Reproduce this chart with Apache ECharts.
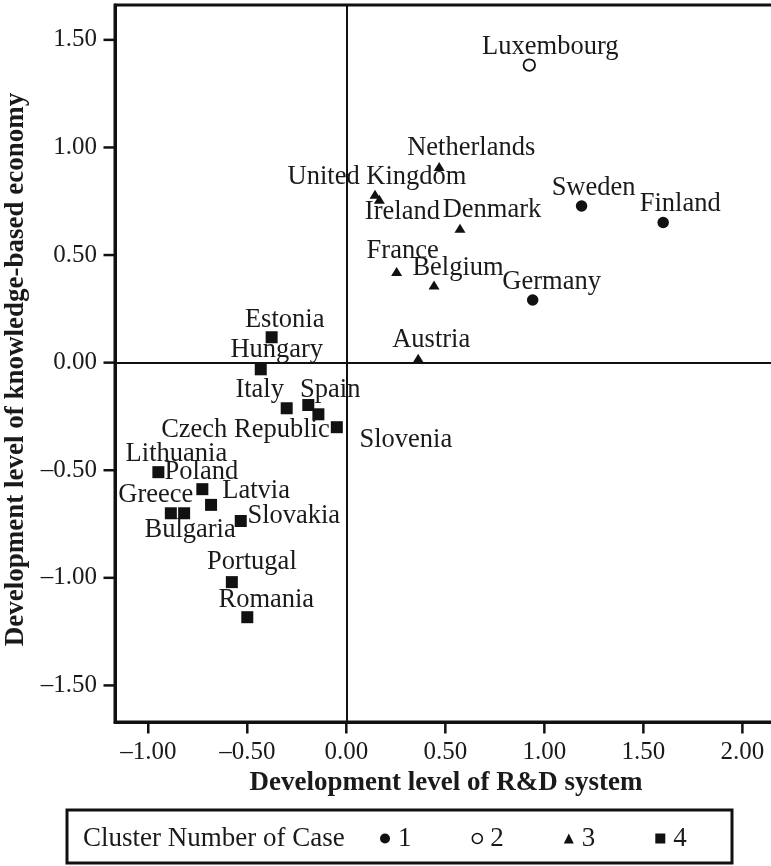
<!DOCTYPE html>
<html>
<head>
<meta charset="utf-8">
<script src="https://cdn.jsdelivr.net/npm/echarts@6/dist/echarts.min.js"></script>
<style>
html,body{margin:0;padding:0;background:#fff;}
#chart{width:771px;height:866px;}
</style>
</head>
<body>
<div id="chart"></div>
<script>
// ---- data ----
const cluster1Names = ['Sweden', 'Finland', 'Germany'];
const cluster1X = [1.188, 1.600, 0.941];
const cluster1Y = [0.728, 0.651, 0.291];

const cluster2Names = ['Luxembourg'];
const cluster2X = [0.924];
const cluster2Y = [1.383];

const cluster3Names = ['Netherlands', 'United Kingdom', 'Ireland', 'Denmark', 'France', 'Belgium', 'Austria'];
const cluster3X = [0.469, 0.145, 0.167, 0.574, 0.254, 0.443, 0.363];
const cluster3Y = [0.912, 0.782, 0.759, 0.625, 0.423, 0.361, 0.020];

const cluster4Names = ['Estonia', 'Hungary', 'Italy', 'Spain', 'Czech Republic', 'Slovenia', 'Lithuania',
  'Poland', 'Latvia', 'Greece', 'Bulgaria', 'Slovakia', 'Portugal', 'Romania'];
const cluster4X = [-0.377, -0.432, -0.301, -0.192, -0.141, -0.048, -0.949,
  -0.727, -0.683, -0.886, -0.819, -0.533, -0.578, -0.500];
const cluster4Y = [0.118, -0.031, -0.212, -0.197, -0.240, -0.300, -0.509,
  -0.588, -0.661, -0.700, -0.700, -0.736, -1.020, -1.183];

const xTicks = [-1.0, -0.5, 0.0, 0.5, 1.0, 1.5, 2.0];
const yTicks = [-1.5, -1.0, -0.5, 0.0, 0.5, 1.0, 1.5];
const clusterLabels = ['1', '2', '3', '4'];

// ---- axis extents ----
const X_MIN = -1.168, X_MAX = 2.2;
const Y_MIN = -1.67, Y_MAX = 1.662;

// ---- label placement (styling, pixel offsets from marker centre) ----
const labelOffsets = {
  'Luxembourg': [21, -18], 'Netherlands': [32, -18], 'United Kingdom': [2, -17],
  'Ireland': [23, 13], 'Denmark': [32, -18], 'Sweden': [12, -18], 'Finland': [17, -19],
  'France': [6, -21], 'Belgium': [24, -17], 'Germany': [19, -18], 'Austria': [13, -18],
  'Estonia': [13, -17], 'Hungary': [16, -19], 'Italy': [-27, -18], 'Spain': [22, -15],
  'Czech Republic': [-73, 16], 'Slovenia': [69, 13], 'Lithuania': [18, -18],
  'Poland': [-1, -17], 'Greece': [-15, -18], 'Latvia': [45, -14], 'Bulgaria': [6, 17],
  'Slovakia': [53, -5], 'Portugal': [20, -20], 'Romania': [19, -17]
};

const FONT = 'Liberation Serif';
const TICK_LEN = 11;
const TICK_W = 2.5;

function build(names, xs, ys) {
  return names.map((n, i) => ({
    name: n,
    value: [xs[i], ys[i]],
    label: { offset: labelOffsets[n] || [0, -18] }
  }));
}

const fmt = v => (v < 0 ? '\u2013' + Math.abs(v).toFixed(2) : v.toFixed(2));

const labelCommon = {
  show: true,
  position: 'inside',
  formatter: p => p.name,
  fontFamily: FONT,
  fontSize: 26.5,
  color: '#1a1a1a',
  align: 'center',
  verticalAlign: 'middle'
};

const chart = echarts.init(document.getElementById('chart'), null, { renderer: 'canvas' });

chart.setOption({
  animation: false,
  backgroundColor: '#fff',
  title: {
    text: 'Cluster Number of Case',
    left: 83, top: 825, padding: 0,
    textStyle: { fontFamily: FONT, fontSize: 27, fontWeight: 'normal', color: '#1a1a1a' }
  },
  legend: {
    left: 380, top: 825, padding: 0,
    itemGap: 60, itemWidth: 10, itemHeight: 10,
    textStyle: { fontFamily: FONT, fontSize: 27, color: '#1a1a1a', padding: [0, 0, 0, 3] },
    data: [
      { name: '1', icon: 'circle', itemStyle: { color: '#111' } },
      { name: '2', icon: 'circle', itemStyle: { color: '#fff', borderColor: '#111', borderWidth: 1.6 } },
      { name: '3', icon: 'triangle', itemStyle: { color: '#111' } },
      { name: '4', icon: 'rect', itemStyle: { color: '#111' } }
    ]
  },
  graphic: [{
    type: 'rect',
    shape: { x: 67, y: 810, width: 665, height: 53 },
    style: { fill: 'none', stroke: '#111', lineWidth: 3 },
    silent: true
  }],
  grid: {
    left: 115, width: 667, top: 5, bottom: 144,
    outerBoundsMode: 'none', containLabel: false,
    show: true, borderColor: '#111', borderWidth: 3, backgroundColor: 'transparent'
  },
  xAxis: {
    type: 'value', min: X_MIN, max: X_MAX,
    name: 'Development level of R&D system',
    nameLocation: 'middle', nameGap: 48,
    nameTextStyle: { fontFamily: FONT, fontSize: 27, fontWeight: 'bold', color: '#1a1a1a', padding: [0, 5, 0, 0] },
    axisLine: { show: true, onZero: false, lineStyle: { color: '#111', width: 3 } },
    splitLine: { show: false },
    axisTick: { show: false },
    axisLabel: { customValues: xTicks, formatter: fmt, margin: 18, fontFamily: FONT, fontSize: 25, color: '#1a1a1a' }
  },
  yAxis: {
    type: 'value', min: Y_MIN, max: Y_MAX,
    name: 'Development level of knowledge-based economy',
    nameLocation: 'middle', nameGap: 67,
    nameTextStyle: { fontFamily: FONT, fontSize: 27, fontWeight: 'bold', color: '#1a1a1a', padding: [0, 12, 0, 0] },
    axisLine: { show: true, onZero: false, lineStyle: { color: '#111', width: 3 } },
    splitLine: { show: false },
    axisTick: { show: false },
    axisLabel: { customValues: yTicks, formatter: fmt, margin: 18, fontFamily: FONT, fontSize: 25, color: '#1a1a1a' }
  },
  series: [
    {
      name: clusterLabels[0], type: 'scatter', symbol: 'circle', symbolSize: 11.5,
      itemStyle: { color: '#111', opacity: 1 },
      label: labelCommon,
      data: build(cluster1Names, cluster1X, cluster1Y),
      markLine: {
        silent: true, symbol: 'none', label: { show: false },
        lineStyle: { color: '#111', width: 2, type: 'solid' },
        data: [{ xAxis: 0 }, { yAxis: 0 }]
      },
      z: 3
    },
    {
      name: clusterLabels[1], type: 'scatter', symbol: 'circle', symbolSize: 11.5,
      itemStyle: { color: '#fff', borderColor: '#111', borderWidth: 1.8, opacity: 1 },
      label: labelCommon,
      data: build(cluster2Names, cluster2X, cluster2Y),
      z: 3
    },
    {
      name: clusterLabels[2], type: 'scatter', symbol: 'triangle', symbolSize: [11, 9],
      itemStyle: { color: '#111', opacity: 1 },
      label: labelCommon,
      data: build(cluster3Names, cluster3X, cluster3Y),
      z: 3
    },
    {
      name: clusterLabels[3], type: 'scatter', symbol: 'rect', symbolSize: 12,
      itemStyle: { color: '#111', opacity: 1 },
      label: labelCommon,
      data: build(cluster4Names, cluster4X, cluster4Y),
      z: 3
    },
    {
      name: 'xTickMarks', type: 'custom', silent: true, clip: false, z: 10, zlevel: 1,
      data: xTicks.map(v => [v, Y_MIN]),
      renderItem: (params, api) => {
        const p = api.coord([api.value(0), api.value(1)]);
        return { type: 'rect', shape: { x: p[0] - TICK_W / 2, y: p[1] + 0.5, width: TICK_W, height: TICK_LEN },
                 style: { fill: '#111' } };
      }
    },
    {
      name: 'yTickMarks', type: 'custom', silent: true, clip: false, z: 10, zlevel: 1,
      data: yTicks.map(v => [X_MIN, v]),
      renderItem: (params, api) => {
        const p = api.coord([api.value(0), api.value(1)]);
        return { type: 'rect', shape: { x: p[0] - TICK_LEN - 0.5, y: p[1] - TICK_W / 2, width: TICK_LEN, height: TICK_W },
                 style: { fill: '#111' } };
      }
    }
  ]
});
</script>
</body>
</html>
